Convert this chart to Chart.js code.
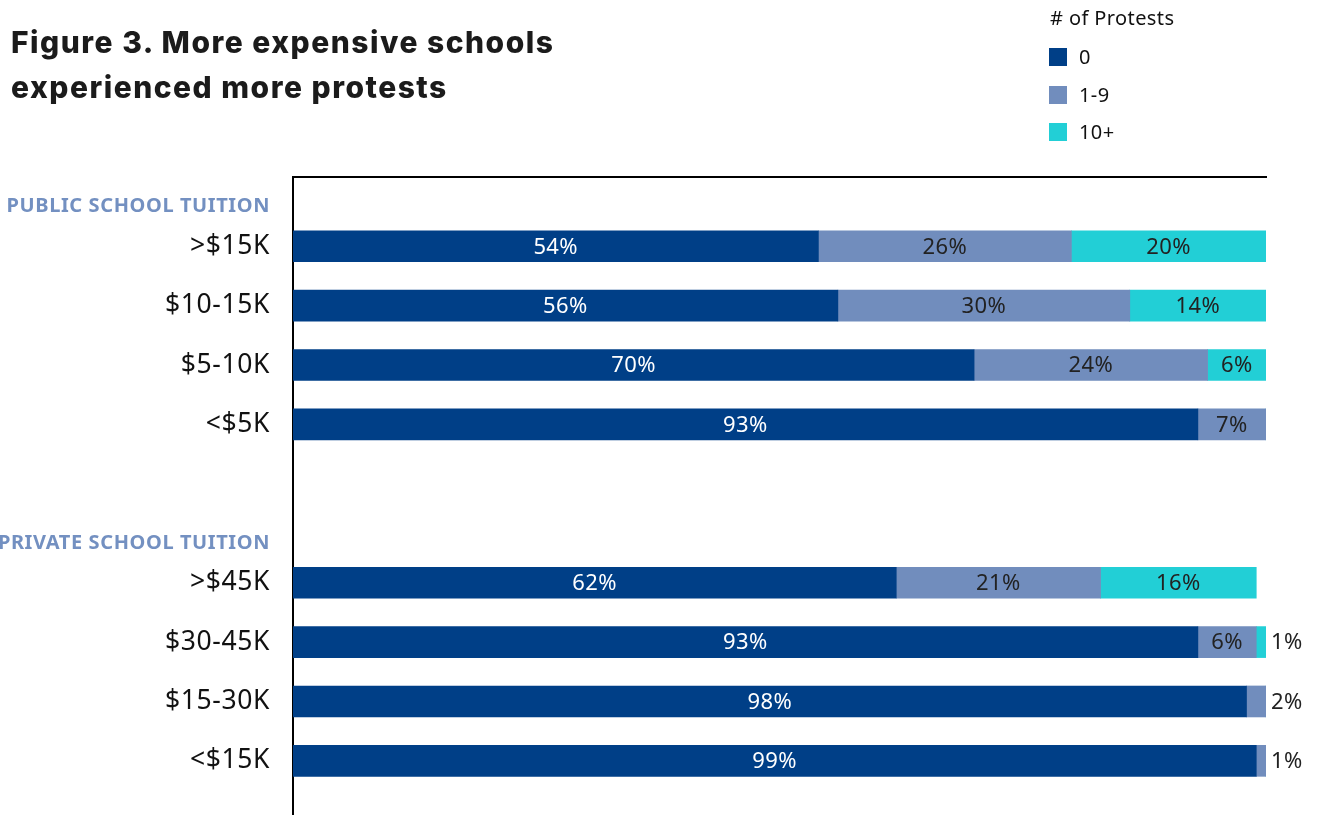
<!DOCTYPE html>
<html>
<head>
<meta charset="utf-8">
<script src="https://cdn.jsdelivr.net/npm/chart.js@4.4.0/dist/chart.umd.min.js"></script>
<style>
  html, body { margin:0; padding:0; background:#fff; overflow:hidden; width:1317px; height:815px; }
  #wrap { position:absolute; left:0; top:0; width:1317px; height:869px; }
  #title { position:absolute; left:11px; top:20px; margin:0; font-family:"Inter", "Liberation Sans", sans-serif; font-weight:800; font-size:30px; line-height:45px; color:#1b1b1b; letter-spacing:1.5px; }
  #legend { position:absolute; left:1049px; top:0; font-family:"Noto Sans", sans-serif; color:#111; }
  #legend .lt { position:absolute; left:1px; top:5px; font-size:20px; letter-spacing:0.4px; white-space:nowrap; line-height:26px; }
  #legend .item { position:absolute; left:0; height:18px; display:flex; align-items:center; white-space:nowrap; }
  #legend .sw { width:18px; height:18px; margin-right:12px; }
  #legend .tx { font-size:20px; letter-spacing:0.4px; line-height:18px; }
</style>
</head>
<body>
<div id="wrap"><canvas id="c" width="1317" height="869"></canvas></div>
<h1 id="title">Figure 3. More expensive schools<br>experienced more protests</h1>
<div id="legend"><div class="lt"># of Protests</div></div>
<script>
// ---- data ----
const groupHeaders = ['PUBLIC SCHOOL TUITION', 'PRIVATE SCHOOL TUITION'];
const publicCats  = ['>$15K', '$10-15K', '$5-10K', '<$5K'];
const privateCats = ['>$45K', '$30-45K', '$15-30K', '<$15K'];
const seriesNames = ['0', '1-9', '10+'];
const seriesColors = ['#003f87', '#718dbd', '#22cfd6'];
const publicZero  = [54, 56, 70, 93];
const publicOne   = [26, 30, 24, 7];
const publicTen   = [20, 14, 6, 0];
const privateZero = [62, 93, 98, 99];
const privateOne  = [21, 6, 2, 1];
const privateTen  = [16, 1, 0, 0];

// ---- build category rows (headers, spacers, categories) ----
const SLOTS = 33;
const labels = new Array(SLOTS).fill('');
const headerSlots = new Set();
const series = seriesNames.map(() => new Array(SLOTS).fill(null));
const groups = [
  [groupHeaders[0], publicCats, [publicZero, publicOne, publicTen]],
  [groupHeaders[1], privateCats, [privateZero, privateOne, privateTen]]
];
let slot = 1;
groups.forEach(([hdr, cats, vals]) => {
  labels[slot] = hdr; headerSlots.add(slot); slot += 2;
  cats.forEach((c, i) => {
    labels[slot] = c;
    vals.forEach((arr, j) => { series[j][slot] = arr[i]; });
    slot += 3;
  });
  slot += 3;
});

// ---- legend ----
const lg = document.getElementById('legend');
seriesNames.forEach((n, i) => {
  const d = document.createElement('div');
  d.className = 'item';
  d.style.top = (48 + i * 37.7) + 'px';
  d.innerHTML = '<div class="sw" style="background:' + seriesColors[i] + '"></div><div class="tx">' + n + '</div>';
  lg.appendChild(d);
});

// ---- text tracking for axis labels ----
const tracking = {
  id: 'tracking',
  beforeDraw(chart) { chart.ctx.letterSpacing = '0.6px'; }
};

// ---- value labels plugin ----
const barLabels = {
  id: 'barLabels',
  afterDatasetsDraw(chart) {
    const ctx = chart.ctx;
    ctx.save();
    ctx.letterSpacing = '0.4px';
    ctx.font = '22px "Noto Sans"';
    ctx.textBaseline = 'middle';
    chart.data.datasets.forEach((ds, di) => {
      const meta = chart.getDatasetMeta(di);
      meta.data.forEach((bar, i) => {
        const v = ds.data[i];
        if (!v) return;
        const p = bar.getProps(['x', 'base', 'y'], true);
        const txt = v + '%';
        if (v >= 3) {
          ctx.textAlign = 'center';
          ctx.fillStyle = di === 0 ? '#ffffff' : '#222222';
          ctx.fillText(txt, (p.x + p.base) / 2, p.y + 1);
        } else {
          ctx.textAlign = 'left';
          ctx.fillStyle = '#222222';
          ctx.fillText(txt, p.x + 5, p.y + 1);
        }
      });
    });
    ctx.restore();
  }
};

new Chart(document.getElementById('c'), {
  type: 'bar',
  data: {
    labels: labels,
    datasets: seriesNames.map((n, i) => ({
      label: n,
      data: series[i],
      backgroundColor: seriesColors[i],
      borderWidth: 0,
      barThickness: 31
    }))
  },
  options: {
    indexAxis: 'y',
    responsive: false,
    animation: false,
    layout: { padding: { top: 177, right: 51, left: 0, bottom: 0 } },
    plugins: { legend: { display: false }, tooltip: { enabled: false } },
    scales: {
      x: {
        position: 'top', stacked: true, min: 0, max: 100,
        ticks: { display: false },
        grid: { display: false, drawTicks: false },
        border: { display: true, color: '#000', width: 2 }
      },
      y: {
        stacked: true,
        ticks: {
          autoSkip: false,
          padding: 23,
          color: (c) => headerSlots.has(c.index) ? '#7390c1' : '#111',
          font: (c) => headerSlots.has(c.index)
            ? { family: 'Noto Sans', size: 20, weight: 'bold' }
            : { family: 'Noto Sans', size: 26.5 }
        },
        grid: { display: false, drawTicks: false },
        border: { display: true, color: '#000', width: 2 },
        afterFit: (s) => { s.width = 293; }
      }
    }
  },
  plugins: [tracking, barLabels]
});
</script>
</body>
</html>
